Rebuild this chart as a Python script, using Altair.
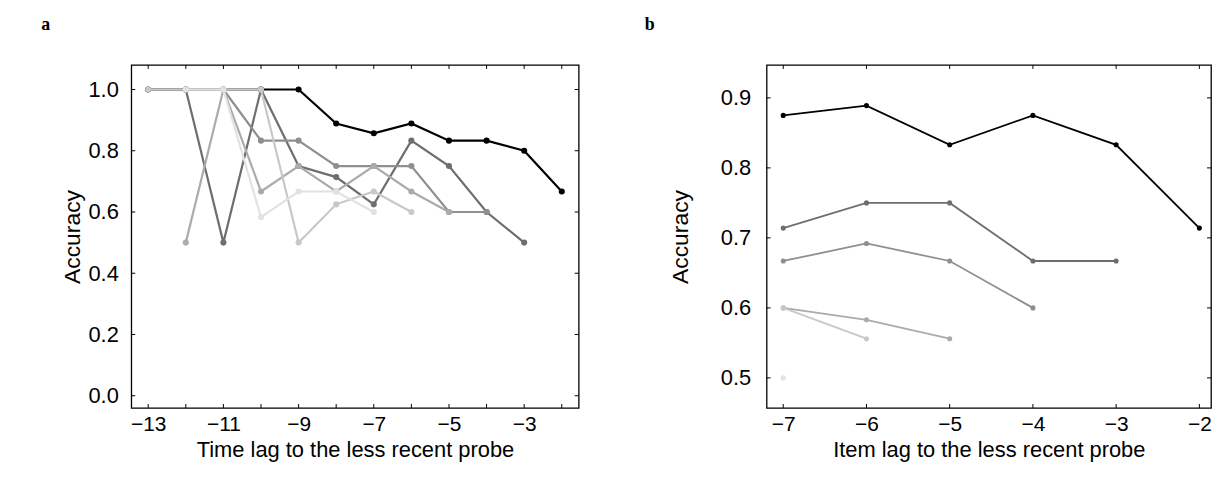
import altair as alt
import pandas as pd

# ---------------- data ----------------
# Panel a: accuracy vs time lag (six series, black -> lightest grey)
time_lags = [-13, -12, -11, -10, -9, -8, -7, -6, -5, -4, -3, -2]
a_s1 = [1.0, 1.0, 1.0, 1.0, 1.0, 0.889, 0.857, 0.889, 0.833, 0.833, 0.8, 0.667]
a_s2 = [None, 1.0, 0.5, 1.0, 0.75, 0.714, 0.625, 0.833, 0.75, 0.6, 0.5, None]
a_s3 = [None, None, 1.0, 0.833, 0.833, 0.75, 0.75, 0.75, 0.6, 0.6, None, None]
a_s4 = [None, 0.5, 1.0, 0.667, 0.75, 0.667, 0.75, 0.667, 0.6, None, None, None]
a_s5 = [1.0, 1.0, 1.0, 1.0, 0.5, 0.625, 0.667, 0.6, None, None, None, None]
a_s6 = [None, 1.0, 1.0, 0.583, 0.667, 0.667, 0.6, None, None, None, None, None]

# Panel b: accuracy vs item lag
item_lags = [-7, -6, -5, -4, -3, -2]
b_s1 = [0.875, 0.889, 0.833, 0.875, 0.833, 0.714]
b_s2 = [0.714, 0.75, 0.75, 0.667, 0.667, None]
b_s3 = [0.667, 0.692, 0.667, 0.6, None, None]
b_s4 = [0.6, 0.583, 0.556, None, None, None]
b_s5 = [0.6, 0.556, None, None, None, None]
b_s6 = [0.5, None, None, None, None, None]

series_names = ["s1", "s2", "s3", "s4", "s5", "s6"]
series_colors = ["#000000", "#6e6e6e", "#8f8f8f", "#ababab", "#c8c8c8", "#e2e2e2"]

a_xticks = [-13, -12, -11, -10, -9, -8, -7, -6, -5, -4, -3, -2]
a_xlabels = [-13, -11, -9, -7, -5, -3]
a_yticks = [0.0, 0.2, 0.4, 0.6, 0.8, 1.0]
b_xticks = [-7, -6, -5, -4, -3, -2]
b_yticks = [0.5, 0.6, 0.7, 0.8, 0.9]

FONT = "Liberation Sans"


def make_df(lags, series):
    rows = []
    for name, vals in zip(series_names, series):
        for lag, v in zip(lags, vals):
            if v is not None:
                rows.append({"series": name, "lag": lag, "acc": v})
    return pd.DataFrame(rows)


def panel(lags, series, xdom, ydom, xlabels, xticks, yticks, xtitle, letter,
          W, H, lw, ms, lab_pad_y, title_pad_y, letter_dx):
    df = make_df(lags, series)
    xs = alt.Scale(domain=xdom, nice=False, zero=False)
    ys = alt.Scale(domain=ydom, nice=False, zero=False)
    xenc = alt.X("lag:Q", scale=xs,
                 axis=alt.Axis(values=xlabels, format="d", title=xtitle,
                               ticks=False, domain=False, grid=False,
                               labelPadding=6, titlePadding=5,
                               labelFontSize=21, titleFontSize=22,
                               labelFont=FONT, titleFont=FONT,
                               titleFontWeight="normal", labelColor="black",
                               titleColor="black"))
    yenc = alt.Y("acc:Q", scale=ys,
                 axis=alt.Axis(values=yticks, format=".1f", title="Accuracy",
                               ticks=False, domain=False, grid=False,
                               labelPadding=lab_pad_y, titlePadding=title_pad_y,
                               labelFontSize=22, titleFontSize=23,
                               labelFont=FONT, titleFont=FONT,
                               titleFontWeight="normal", labelColor="black",
                               titleColor="black"))
    layers = []
    for name, col in zip(series_names, series_colors):
        base = alt.Chart(df).transform_filter(alt.datum.series == name)
        layers.append(base.mark_line(color=col, strokeWidth=lw).encode(x=xenc, y=yenc, order="lag:Q"))
        layers.append(base.mark_circle(color=col, size=ms, opacity=1).encode(x=xenc, y=yenc))
    # inward frame ticks
    xt = pd.DataFrame({"lag": xticks})
    yt = pd.DataFrame({"acc": yticks})
    tick_len = 4
    layers.append(alt.Chart(xt).mark_rule(color="black", strokeWidth=1).encode(
        x=alt.X("lag:Q", scale=xs), y=alt.value(H), y2=alt.value(H - tick_len)))
    layers.append(alt.Chart(xt).mark_rule(color="black", strokeWidth=1).encode(
        x=alt.X("lag:Q", scale=xs), y=alt.value(0), y2=alt.value(tick_len)))
    layers.append(alt.Chart(yt).mark_rule(color="black", strokeWidth=1).encode(
        y=alt.Y("acc:Q", scale=ys), x=alt.value(0), x2=alt.value(tick_len)))
    layers.append(alt.Chart(yt).mark_rule(color="black", strokeWidth=1).encode(
        y=alt.Y("acc:Q", scale=ys), x=alt.value(W), x2=alt.value(W - tick_len)))
    return alt.layer(*layers).properties(
        width=W, height=H,
        title=alt.TitleParams(letter, anchor="start", font="Liberation Serif",
                              fontWeight="bold", fontSize=18, dx=letter_dx,
                              offset=31, color="black"))


pa = panel(time_lags, [a_s1, a_s2, a_s3, a_s4, a_s5, a_s6],
           [-13.45, -1.55], [-0.04, 1.08], a_xlabels, a_xticks, a_yticks,
           "Time lag to the less recent probe", "a", 450, 345, 2.2, 38, 13, 4, -20)
pb = panel(item_lags, [b_s1, b_s2, b_s3, b_s4, b_s5, b_s6],
           [-7.2, -1.86], [0.457, 0.947], b_xticks, b_xticks, b_yticks,
           "Item lag to the less recent probe", "b", 447, 345, 1.8, 26, 16, 28, -25)

chart = alt.hconcat(pa, pb, spacing=63).properties(
    padding={"left": 32, "top": 5, "right": 0, "bottom": 0},
    background="white",
).configure_view(stroke="black", strokeWidth=1.3)

chart.save("out.html", embed_options={"renderer": "svg", "actions": False})
